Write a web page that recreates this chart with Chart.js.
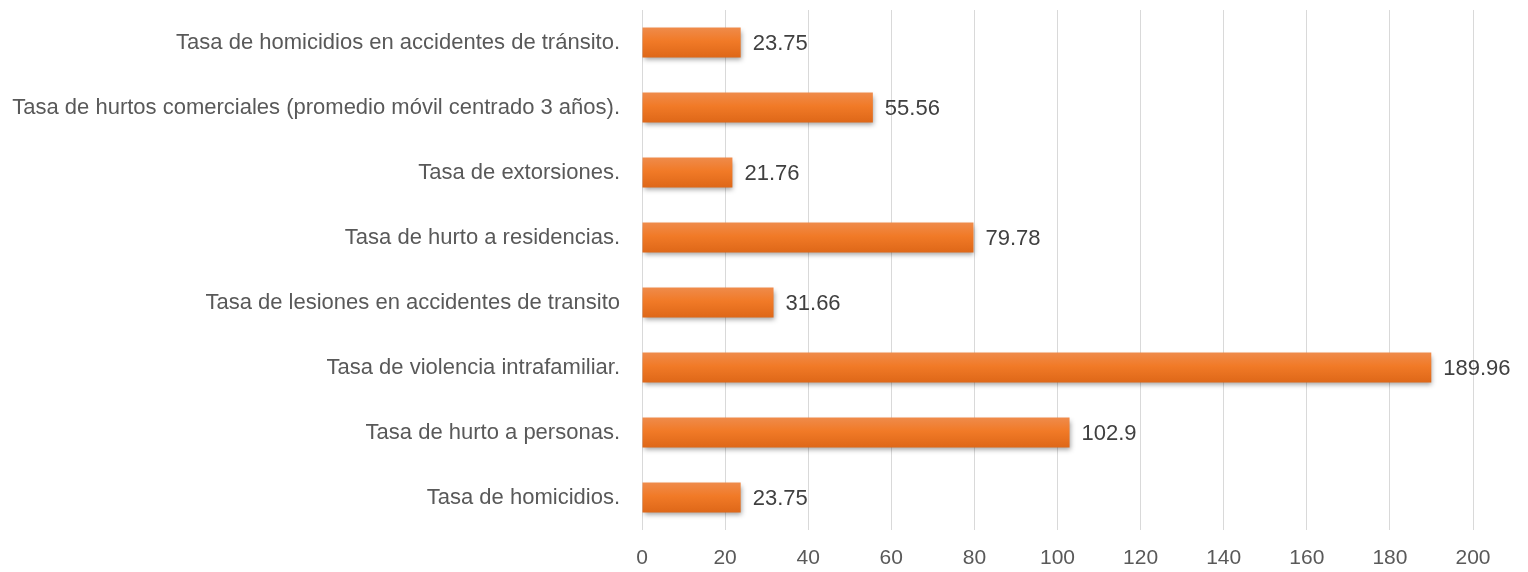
<!DOCTYPE html>
<html>
<head>
<meta charset="utf-8">
<script src="https://cdn.jsdelivr.net/npm/chart.js@4/dist/chart.umd.min.js"></script>
<style>
  html, body { margin: 0; padding: 0; background: #ffffff; }
  #wrap { width: 1528px; height: 572px; position: relative; }
</style>
</head>
<body>
<div id="wrap"><canvas id="c" width="1528" height="572"></canvas></div>
<script>
const categories = [
  "Tasa de homicidios en accidentes de tránsito.",
  "Tasa de hurtos comerciales (promedio móvil centrado 3 años).",
  "Tasa de extorsiones.",
  "Tasa de hurto a residencias.",
  "Tasa de lesiones en accidentes de transito",
  "Tasa de violencia intrafamiliar.",
  "Tasa de hurto a personas.",
  "Tasa de homicidios."
];
const values = [23.75, 55.56, 21.76, 79.78, 31.66, 189.96, 102.9, 23.75];
const xMin = 0, xMax = 200, xStep = 20;

const FONT = "'Liberation Sans', Arial, sans-serif";

const shadowPlugin = {
  id: 'barShadow',
  beforeDatasetsDraw(chart) {
    const ctx = chart.ctx;
    ctx.save();
    ctx.shadowColor = 'rgba(0,0,0,0.38)';
    ctx.shadowBlur = 5;
    ctx.shadowOffsetX = 1;
    ctx.shadowOffsetY = 3;
  },
  afterDatasetsDraw(chart) {
    chart.ctx.restore();
  }
};

const labelPlugin = {
  id: 'valueLabels',
  afterDatasetsDraw(chart) {
    const ctx = chart.ctx;
    const meta = chart.getDatasetMeta(0);
    ctx.save();
    ctx.font = "22px " + FONT;
    ctx.fillStyle = '#404040';
    ctx.textAlign = 'left';
    ctx.textBaseline = 'middle';
    meta.data.forEach((bar, i) => {
      ctx.fillText(String(values[i]), bar.x + 12, bar.y + 1);
    });
    ctx.restore();
  }
};

function barGradient(context) {
  const chart = context.chart;
  const ys = chart.scales && chart.scales.y;
  if (!ys) return '#ED7A2A';
  const cy = ys.getPixelForValue(context.dataIndex);
  if (!isFinite(cy)) return '#ED7A2A';
  const half = 15;
  const g = chart.ctx.createLinearGradient(0, cy - half, 0, cy + half);
  g.addColorStop(0, '#EF8B4B');
  g.addColorStop(0.45, '#F17A27');
  g.addColorStop(1, '#DE6718');
  return g;
}

new Chart(document.getElementById('c'), {
  type: 'bar',
  data: {
    labels: categories,
    datasets: [{
      data: values,
      backgroundColor: barGradient,
      borderWidth: 0,
      categoryPercentage: 1.0,
      barPercentage: 0.46
    }]
  },
  plugins: [shadowPlugin, labelPlugin],
  options: {
    indexAxis: 'y',
    responsive: false,
    animation: false,
    devicePixelRatio: 1,
    layout: { padding: { left: 0, right: 55, top: 10, bottom: 0 } },
    plugins: { legend: { display: false }, tooltip: { enabled: false } },
    scales: {
      x: {
        min: xMin, max: xMax,
        border: { display: false },
        grid: { color: '#D9D9D9', lineWidth: 1, drawTicks: false },
        ticks: {
          stepSize: xStep,
          color: '#595959',
          font: { family: FONT, size: 21 },
          padding: 16
        },
        afterFit(scale) { scale.height = 42; scale.paddingLeft = 0; scale.paddingRight = 0; }
      },
      y: {
        border: { display: false },
        grid: { display: false, drawTicks: false },
        ticks: {
          color: '#595959',
          font: { family: FONT, size: 22 },
          padding: 22
        },
        afterFit(scale) { scale.width = 642; scale.paddingTop = 0; scale.paddingBottom = 0; }
      }
    }
  }
});
</script>
</body>
</html>
